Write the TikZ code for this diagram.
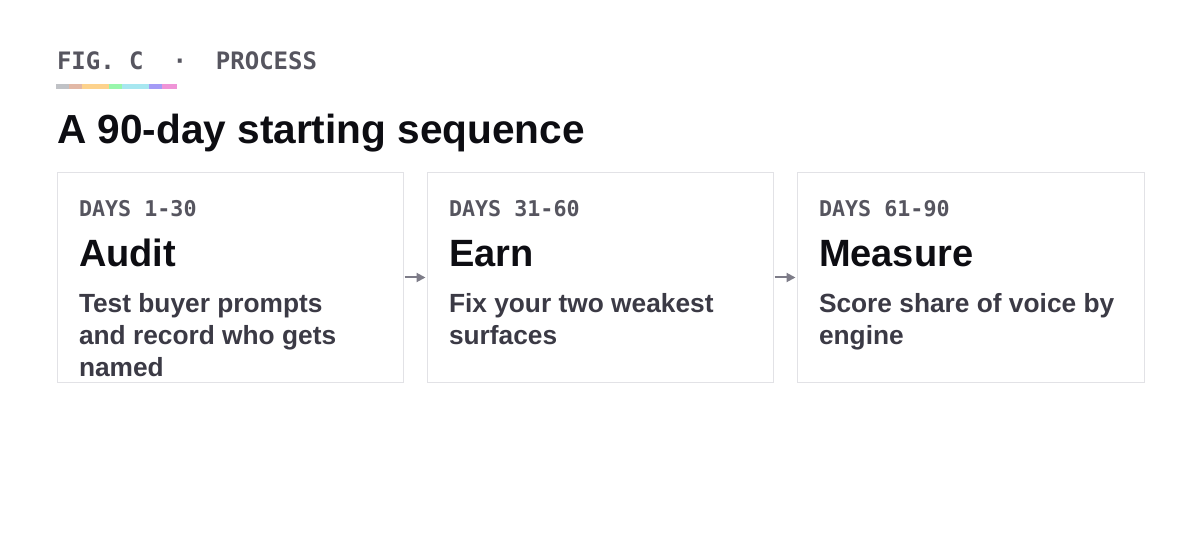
\documentclass[tikz,border=0pt]{standalone}
\usepackage{fontspec}
\usepackage{xcolor}
\usetikzlibrary{arrows.meta}
\setmainfont{Liberation Sans}
\newfontfamily\monofont{DejaVu Sans Mono}
\definecolor{inkgray}{HTML}{56555F}
\definecolor{inkblack}{HTML}{0D0D12}
\definecolor{inkbody}{HTML}{3B3A45}
\definecolor{boxline}{HTML}{E2E2E6}
\definecolor{arrowgray}{HTML}{7D7C88}
\definecolor{barA}{HTML}{C0C2C6}
\definecolor{barB}{HTML}{E2B8A6}
\definecolor{barC}{HTML}{FDD28C}
\definecolor{barD}{HTML}{98F6AB}
\definecolor{barE}{HTML}{A7E7F0}
\definecolor{barF}{HTML}{A49BF6}
\definecolor{barG}{HTML}{EF94D7}
\tikzset{
  every node/.style={inner sep=0pt, outer sep=0pt},
  stagebox/.style={draw=boxline, line width=1pt, fill=white, anchor=north west,
    minimum height=209pt},
  daylabel/.style={anchor=base west, text=inkgray, font=\monofont\bfseries\fontsize{21.7}{26}\selectfont},
  stagetitle/.style={anchor=base west, text=inkblack, font=\bfseries\fontsize{38}{44}\selectfont},
  stagebody/.style={anchor=north west, align=left, text=inkbody, font=\bfseries\fontsize{26.3}{32}\selectfont},
  stagearrow/.style={draw=arrowgray, line width=2pt, -{Triangle[length=9pt,width=9pt]},
    shorten <=1.5pt, shorten >=1.5pt}
}
\begin{document}
\begin{tikzpicture}[x=1pt,y=-1pt]
  \fill[white] (0,0) rectangle (1200,540);
  \useasboundingbox (0,0) rectangle (1200,540);
  \node[anchor=base west, text=inkgray, font=\monofont\bfseries\fontsize{24}{28}\selectfont] (fig) at (57,70) {FIG. C~~·~~PROCESS};
  \fill[barA] (56,84) rectangle (69,89);
  \fill[barB] (69,84) rectangle (82,89);
  \fill[barC] (82,84) rectangle (109,89);
  \fill[barD] (109,84) rectangle (122,89);
  \fill[barE] (122,84) rectangle (149,89);
  \fill[barF] (149,84) rectangle (162,89);
  \fill[barG] (162,84) rectangle (177,89);
  \node[anchor=base west, text=inkblack, font=\bfseries\fontsize{40.6}{48}\selectfont] (title) at (57,144) {A 90-day starting sequence};
  \node[stagebox, minimum width=346pt] (audit) at (57,173) {};
  \node[stagebox, minimum width=346pt] (earn) at (427,173) {};
  \node[stagebox, minimum width=347pt] (measure) at (797,173) {};
  \node[daylabel] (auditdays) at (79,217) {DAYS 1-30};
  \node[daylabel] (earndays) at (449,217) {DAYS 31-60};
  \node[daylabel] (measuredays) at (819,217) {DAYS 61-90};
  \node[stagetitle] (audittitle) at (79,267) {Audit};
  \node[stagetitle] (earntitle) at (449,267) {Earn};
  \node[stagetitle] (measuretitle) at (819,267) {Measure};
  \node[stagebody] (auditbody) at (79,293) {Test buyer prompts\\and record who gets\\named};
  \node[stagebody] (earnbody) at (449,293) {Fix your two weakest\\surfaces};
  \node[stagebody] (measurebody) at (819,293) {Score share of voice by\\engine};
  \draw[stagearrow] (audit.east) -- (earn.west);
  \draw[stagearrow] (earn.east) -- (measure.west);
\end{tikzpicture}
\end{document}
